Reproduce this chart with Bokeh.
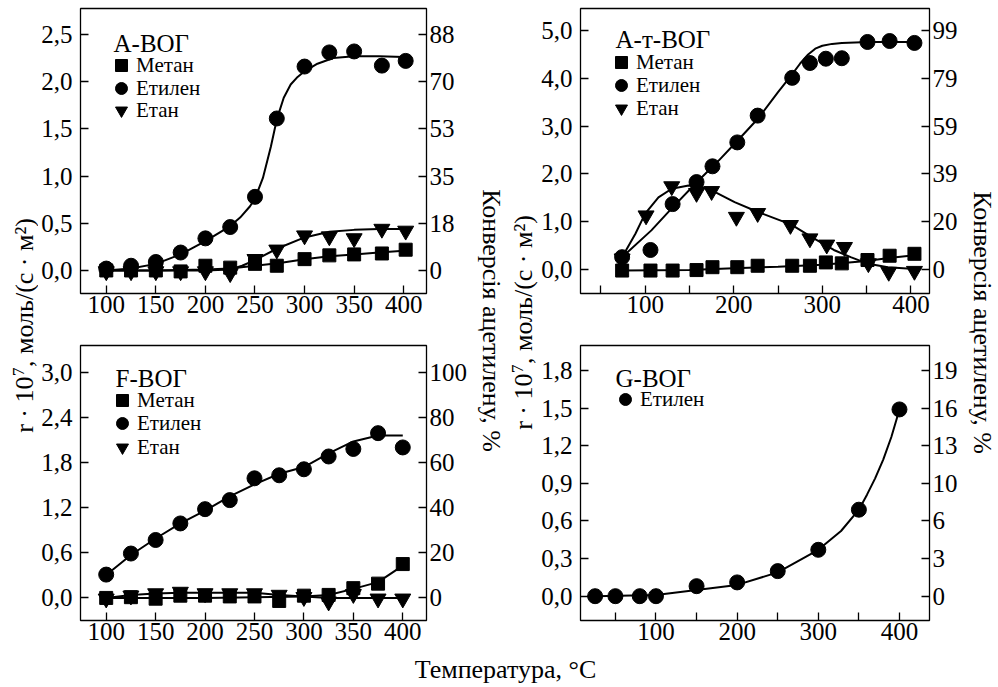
from bokeh.plotting import figure
from bokeh.models import FixedTicker, LinearAxis, Range1d, Legend, LegendItem, Label
from bokeh.layouts import row, column
from bokeh.embed import file_html
from bokeh.resources import INLINE
import math

FONT = "Liberation Serif, DejaVu Serif"

# ---------------- Panel A-ВОГ ----------------
a_temp = [100, 125, 150, 175, 200, 225, 250, 272, 300, 325, 350, 378, 402]
a_methane = [0.0, 0.0, 0.0, -0.01, 0.05, 0.03, 0.07, 0.05, 0.12, 0.16, 0.17, 0.18, 0.22]
a_ethylene = [0.02, 0.05, 0.09, 0.19, 0.34, 0.46, 0.78, 1.61, 2.16, 2.31, 2.32, 2.17, 2.22]
a_ethane = [-0.01, -0.01, -0.01, -0.01, -0.01, -0.03, 0.12, 0.22, 0.37, 0.36, 0.34, 0.44, 0.42]
a_fit_eth_x = [100, 125, 150, 175, 200, 225, 235, 245, 250, 258, 266, 272, 279, 286, 293, 300, 313, 329, 350, 375, 400]
a_fit_eth = [0.0, 0.02, 0.07, 0.17, 0.31, 0.47, 0.56, 0.68, 0.76, 0.98, 1.31, 1.60, 1.83, 1.97, 2.05, 2.11, 2.19, 2.25, 2.27, 2.27, 2.26]
a_fit_ethane_x = [100, 150, 200, 225, 237, 250, 272, 300, 325, 350, 375, 400]
a_fit_ethane = [0.0, 0.0, 0.0, 0.01, 0.05, 0.11, 0.23, 0.35, 0.41, 0.43, 0.44, 0.44]
a_fit_meth_x = [100, 150, 200, 225, 250, 275, 300, 325, 350, 375, 400]
a_fit_meth = [0.0, 0.0, 0.01, 0.02, 0.05, 0.08, 0.12, 0.15, 0.17, 0.19, 0.21]
a_yticks = [0, 0.5, 1, 1.5, 2, 2.5]
a_ylabels = ["0,0", "0,5", "1,0", "1,5", "2,0", "2,5"]
a_conv_labels = ["0", "18", "35", "53", "70", "88"]

# ---------------- Panel А-т-ВОГ ----------------
at_temp = [74, 106, 131, 158, 176, 204, 227, 266, 286, 304, 322, 351, 376, 404]
at_methane = [-0.02, -0.02, -0.02, -0.01, 0.05, 0.05, 0.08, 0.08, 0.08, 0.15, 0.13, 0.2, 0.29, 0.33]
at_ethylene = [0.26, 0.41, 1.37, 1.83, 2.16, 2.66, 3.22, 4.01, 4.32, 4.41, 4.42, 4.76, 4.78, 4.74]
at_ethane_temp = [74, 101, 130, 158, 175, 203, 227, 264, 286, 305, 325, 352, 375, 404]
at_ethane = [0.23, 1.13, 1.74, 1.60, 1.64, 1.10, 1.18, 0.93, 0.65, 0.52, 0.47, 0.13, -0.05, -0.03]
at_fit_eth_x = [74, 107, 131, 158, 183, 205, 228, 250, 265, 275, 284, 292, 300, 311, 322, 352, 404]
at_fit_eth = [0.26, 0.82, 1.30, 1.82, 2.28, 2.71, 3.17, 3.71, 4.06, 4.31, 4.50, 4.62, 4.68, 4.72, 4.74, 4.76, 4.76]
at_fit_ethane_x = [74, 89, 100, 115, 130, 149, 164, 179, 201, 228, 265, 288, 313, 332, 352, 374, 404]
at_fit_ethane = [0.26, 0.75, 1.17, 1.51, 1.69, 1.76, 1.72, 1.62, 1.41, 1.20, 0.94, 0.68, 0.41, 0.26, 0.12, 0.05, 0.01]
at_fit_meth_x = [74, 150, 200, 250, 300, 350, 375, 404]
at_fit_meth = [-0.02, -0.01, 0.03, 0.06, 0.10, 0.18, 0.24, 0.30]
at_yticks = [0, 1, 2, 3, 4, 5]
at_ylabels = ["0,0", "1,0", "2,0", "3,0", "4,0", "5,0"]
at_conv_labels = ["0", "20", "39", "59", "79", "99"]

# ---------------- Panel F-ВОГ ----------------
f_temp = [100, 125, 150, 175, 200, 225, 250, 275, 300, 325, 350, 375, 400]
f_methane = [0.0, 0.01, -0.01, 0.03, 0.03, 0.02, 0.02, -0.04, 0.03, 0.04, 0.13, 0.19, 0.45]
f_ethylene = [0.31, 0.59, 0.77, 0.99, 1.18, 1.30, 1.59, 1.63, 1.71, 1.88, 1.98, 2.19, 2.00]
f_ethane = [-0.01, 0.03, 0.06, 0.08, 0.06, 0.06, 0.06, 0.04, 0.01, -0.05, 0.05, -0.01, -0.01]
f_fit_eth = [0.305, 0.57, 0.79, 0.99, 1.16, 1.35, 1.51, 1.65, 1.74, 1.92, 2.08, 2.16, 2.16]
f_fit_ethane = [0.0, 0.04, 0.06, 0.07, 0.07, 0.07, 0.07, 0.04, 0.02, 0.0, 0.0, 0.0, 0.0]
f_fit_meth_x = [100, 200, 300, 325, 350, 375, 400]
f_fit_meth = [0.0, 0.0, 0.02, 0.04, 0.12, 0.21, 0.43]
f_yticks = [0, 0.6, 1.2, 1.8, 2.4, 3.0]
f_ylabels = ["0,0", "0,6", "1,2", "1,8", "2,4", "3,0"]
f_conv_labels = ["0", "20", "40", "60", "80", "100"]

# ---------------- Panel G-ВОГ ----------------
g_temp = [25, 50, 80, 100, 150, 200, 250, 300, 350, 400]
g_ethylene = [0.0, 0.0, 0.0, 0.0, 0.08, 0.11, 0.20, 0.37, 0.69, 1.49]
g_fit_x = [25, 100, 150, 200, 250, 300, 328, 350, 360, 370, 380, 390, 400]
g_fit = [0.0, 0.01, 0.05, 0.09, 0.19, 0.37, 0.52, 0.69, 0.81, 0.94, 1.09, 1.27, 1.49]
g_yticks = [0, 0.3, 0.6, 0.9, 1.2, 1.5, 1.8]
g_ylabels = ["0,0", "0,3", "0,6", "0,9", "1,2", "1,5", "1,8"]
g_conv_labels = ["0", "3", "6", "10", "13", "16", "19"]

x_ticks_fine = [100, 150, 200, 250, 300, 350, 400]
x_ticks_coarse = [100, 200, 300, 400]
x_minor_coarse = [50, 150, 250, 350]

names = ["Метан", "Етилен", "Етан"]
left_label_parts = ["r · 10", "7", ", моль/(с · м²)"]   # r·10^7, моль/(с·м²)
right_label = "Конверсія ацетилену, %"
x_label = "Температура, °C"


def style_axis(ax, standoff):
    ax.axis_line_color = None
    ax.major_tick_in = 8
    ax.major_tick_out = 0
    ax.minor_tick_in = 8
    ax.minor_tick_out = 0
    ax.major_tick_line_color = "black"
    ax.major_tick_line_width = 1.3
    ax.minor_tick_line_color = "black"
    ax.minor_tick_line_width = 1.3
    ax.major_label_text_font = FONT
    ax.major_label_text_font_size = "25px"
    ax.major_label_text_color = "black"
    ax.major_label_standoff = standoff


def make_panel(width, height, borders, xr, yr, xticks, xminor, yticks, ylabels, rlabels):
    p = figure(width=width, height=height, x_range=Range1d(*xr), y_range=Range1d(*yr),
               output_backend="svg", toolbar_location=None,
               min_border_left=borders[0], min_border_right=borders[1],
               min_border_top=borders[2], min_border_bottom=borders[3])
    p.grid.visible = False
    p.outline_line_color = "black"
    p.outline_line_width = 1.3
    p.outline_line_alpha = 1.0
    p.background_fill_color = "white"
    p.border_fill_color = "white"
    p.xaxis.ticker = FixedTicker(ticks=xticks, minor_ticks=xminor)
    style_axis(p.xaxis[0], 2)
    p.yaxis.ticker = FixedTicker(ticks=yticks)
    p.yaxis.major_label_overrides = dict(zip(yticks, ylabels))
    style_axis(p.yaxis[0], 8)
    ra = LinearAxis(ticker=FixedTicker(ticks=yticks),
                    major_label_overrides=dict(zip(yticks, rlabels)))
    style_axis(ra, 3)
    p.add_layout(ra, "right")
    return p


def add_title(p, text, x, y):
    p.add_layout(Label(x=x, y=y, x_units="screen", y_units="screen", text=text,
                       text_font=FONT, text_font_size="25px", text_color="black",
                       text_baseline="alphabetic", text_align="left"))


def add_legend(p, items, vx, vys):
    # one single-item legend per entry so that the rows sit as close as in the original
    for (lab, r), vy in zip(items, vys):
        lg = Legend(items=[LegendItem(label=lab, renderers=[r])],
                    location=(vx, vy), glyph_width=30, glyph_height=30, spacing=0,
                    padding=0, margin=0, label_standoff=0, label_height=20,
                    label_text_font=FONT, label_text_font_size="21px", label_text_color="black",
                    background_fill_alpha=0, border_line_alpha=0)
        p.add_layout(lg)


def line(p, x, y):
    p.line(x, y, line_color="black", line_width=2)


def markers(p, x, y, kind):
    size = {"square": 13, "circle": 15, "inverted_triangle": 16}[kind]
    return p.scatter(x, y, marker=kind, size=size, fill_color="black", line_color="black")


# Panel A  (frame 78..428 x 8..293)
pA = make_panel(432, 323, (40, 42, 8, 30), (74, 423), (-0.244, 2.775),
                x_ticks_fine, [], a_yticks, a_ylabels, a_conv_labels)
line(pA, a_fit_meth_x, a_fit_meth)
line(pA, a_fit_ethane_x, a_fit_ethane)
line(pA, a_fit_eth_x, a_fit_eth)
rA1 = markers(pA, a_temp, a_methane, "square")
rA3 = markers(pA, a_temp, a_ethane, "inverted_triangle")
rA2 = markers(pA, a_temp, a_ethylene, "circle")
add_title(pA, "А-ВОГ", 33, 250)
add_legend(pA, list(zip(names, [rA1, rA2, rA3])), 26, [213, 190, 168])

# Panel A-т  (frame 578..929 x 8..293)
pT = make_panel(425, 323, (40, 34, 8, 30), (27, 421), (-0.5, 5.46),
                x_ticks_coarse, x_minor_coarse, at_yticks, at_ylabels, at_conv_labels)
line(pT, at_fit_meth_x, at_fit_meth)
line(pT, at_fit_ethane_x, at_fit_ethane)
line(pT, at_fit_eth_x, at_fit_eth)
rT1 = markers(pT, at_temp, at_methane, "square")
rT3 = markers(pT, at_ethane_temp, at_ethane, "inverted_triangle")
rT2 = markers(pT, at_temp, at_ethylene, "circle")
add_title(pT, "А-т-ВОГ", 35, 254)
add_legend(pT, list(zip(names, [rT1, rT2, rT3])), 26, [216, 193, 170])

# Panel F  (frame 78..428 x 345..620)
pF = make_panel(432, 329, (40, 42, 22, 32), (74, 424), (-0.3, 3.355),
                x_ticks_fine, [], f_yticks, f_ylabels, f_conv_labels)
line(pF, f_fit_meth_x, f_fit_meth)
line(pF, f_temp, f_fit_ethane)
line(pF, f_temp, f_fit_eth)
rF1 = markers(pF, f_temp, f_methane, "square")
rF3 = markers(pF, f_temp, f_ethane, "inverted_triangle")
rF2 = markers(pF, f_temp, f_ethylene, "circle")
add_title(pF, "F-ВОГ", 35, 242)
add_legend(pF, list(zip(names, [rF1, rF2, rF3])), 27, [205, 182, 158])

# Panel G  (frame 578..929 x 345..620)
pG = make_panel(425, 329, (40, 34, 22, 32), (7, 437), (-0.194, 2.0),
                x_ticks_coarse, x_minor_coarse, g_yticks, g_ylabels, g_conv_labels)
line(pG, g_fit_x, g_fit)
rG2 = markers(pG, g_temp, g_ethylene, "circle")
add_title(pG, "G-ВОГ", 35, 242)
add_legend(pG, [("Етилен", rG2)], 30, [206])


def label_fig(width, height):
    p = figure(width=width, height=height, output_backend="svg", toolbar_location=None,
               x_axis_location=None, y_axis_location=None, min_border=0,
               x_range=Range1d(0, 1), y_range=Range1d(0, 1))
    p.grid.visible = False
    p.outline_line_color = None
    p.background_fill_color = "white"
    p.border_fill_color = "white"
    return p


def add_text(p, text, x, y, angle, align="center", baseline="middle", size="26px"):
    p.add_layout(Label(x=x, y=y, x_units="screen", y_units="screen", text=text,
                       angle=angle, text_font=FONT, text_font_size=size, text_color="black",
                       text_align=align, text_baseline=baseline))


def add_left_label(p, xm, yj):
    # rotated label reading upwards; "7" is set as a raised, smaller exponent
    a = math.pi / 2
    add_text(p, left_label_parts[0], xm, yj, a, align="right")
    add_text(p, left_label_parts[1], xm - 6, yj + 0.5, a, align="left", size="17px")
    add_text(p, left_label_parts[2], xm, yj + 9.5, a, align="left")


H = 323 + 329
L1 = label_fig(38, H)
add_left_label(L1, 24, H - 376)
M = label_fig(68, H)
add_text(M, right_label, 21, H - 320, -math.pi / 2)
add_left_label(M, 53, H - 373)
R2 = label_fig(35, H)
add_text(R2, right_label, 19, H - 322, -math.pi / 2)
XL = label_fig(998, 687 - H)
add_text(XL, x_label, 505, 18, 0, baseline="middle")

layout = column(row(L1, column(pA, pF), M, column(pT, pG), R2), XL)

open("out.html", "w").write(file_html(layout, INLINE))
